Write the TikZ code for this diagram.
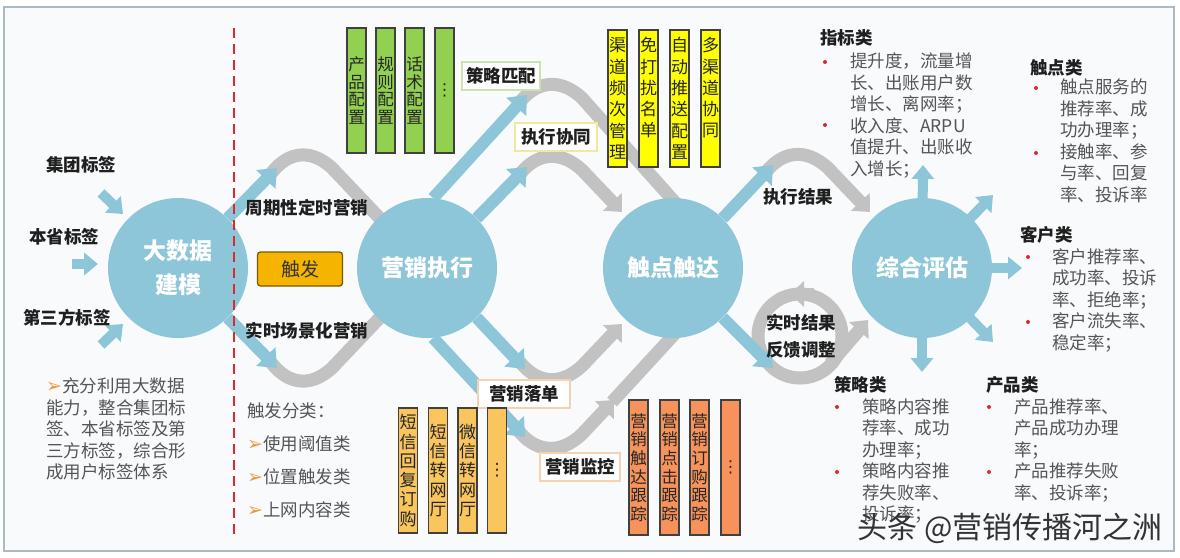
\documentclass[tikz,border=0pt]{standalone}
\usepackage{fontspec}
\setmainfont{Noto Sans CJK SC}
\newfontfamily\symf{DejaVu Sans}
\usetikzlibrary{arrows.meta}
\pgfdeclarelayer{bg}
\pgfdeclarelayer{back}
\pgfsetlayers{bg,back,main}
\definecolor{cblue}{HTML}{8DC5D9}
\definecolor{cgray}{HTML}{C2C2C2}
\definecolor{cframe}{HTML}{A9B9C8}
\definecolor{cbg}{HTML}{F8FAFC}
\definecolor{cred}{HTML}{E02828}
\definecolor{ctxt}{HTML}{555555}
\definecolor{cgreen}{HTML}{92D050}
\definecolor{cyellow}{HTML}{FFFF00}
\definecolor{clorange}{HTML}{F9C55C}
\definecolor{corange}{HTML}{F7935A}
\definecolor{ctrig}{HTML}{F4B400}
\definecolor{ctrigb}{HTML}{7A5A00}
\definecolor{cbullet}{HTML}{EE9A3A}
\definecolor{cglight}{HTML}{C9E3B5}
\definecolor{cylight}{HTML}{EFEA9C}
\definecolor{colight}{HTML}{F5D3B0}
\newcommand{\arrb}{{\symf\fontsize{19}{19}\selectfont\color{cbullet}➢}}
\begin{document}
\begin{tikzpicture}[x=1pt,y=-1pt,
  bluearr/.style={draw=cblue, line width=12pt, -{Triangle[width=26pt,length=16pt]}},
  smallarr/.style={draw=cblue, line width=10pt, -{Triangle[width=22pt,length=14pt]}},
  band/.style={draw=cgray, line width=13pt},
  grayarr/.style={band, -{Triangle[width=25pt,length=14pt]}},
  bigc/.style={circle, fill=cblue, minimum size=140pt, inner sep=0pt, text=white, font=\fontsize{23}{34}\selectfont\bfseries, align=center},
  lbl/.style={font=\fontsize{17.5}{21}\selectfont\bfseries, text=black!88, inner sep=0pt},
  tagbox/.style={lbl, fill=white, draw=#1, line width=1.2pt, inner xsep=4pt, minimum height=28pt},
  vbox/.style={draw=black!75, line width=1.2pt, fill=#1, minimum width=19pt, inner sep=0pt, align=center, text=black!85},
  body/.style={font=\fontsize{17.5}{21.5}\selectfont, text=ctxt, align=left, inner sep=0pt, anchor=north west},
  head/.style={font=\fontsize{17.5}{21}\selectfont\bfseries, text=black!88, inner sep=0pt, anchor=west},
  rdot/.style={circle, fill=cred, inner sep=0pt, minimum size=4pt},
  wm/.style={font=\fontsize{30}{30}\selectfont, inner sep=0pt, text=black!80},
]
% ---------- circles ----------
\node[bigc] (c1) at (178,268) {大数据\\建模};
\node[bigc] (c2) at (427,268) {营销执行};
\node[bigc] (c3) at (673,268) {触点触达};
\node[bigc] (c4) at (922,268) {综合评估};

% ---------- free ends ----------
\coordinate (t1) at (277,168);
\coordinate (t2) at (277,368);
\coordinate (t3) at (527,95);
\coordinate (t4) at (527,167);
\coordinate (t5) at (525,369);
\coordinate (t6) at (525,437);
\coordinate (t7) at (773,165);
\coordinate (t8) at (773,368);
\coordinate (r1) at (923,165);
\coordinate (r2) at (993,195);
\coordinate (r3) at (1022,268);
\coordinate (r4) at (993,342);
\coordinate (r5) at (922,372);
\coordinate (i1) at (101,193);
\coordinate (i1t) at (123,214);
\coordinate (i2) at (72,264);
\coordinate (i2t) at (98,264);
\coordinate (i3) at (101,345);
\coordinate (i3t) at (123,324);
\coordinate (ring) at (800,336);

\begin{pgfonlayer}{bg}
\fill[white] (0,0) rectangle (1180,557);
\useasboundingbox (0,0) rectangle (1180,557);
\draw[draw=cframe, line width=2pt, fill=cbg] (4,7) rectangle (1174,551);
\end{pgfonlayer}

\begin{pgfonlayer}{back}
% gray bands
\draw[band] (270,175) .. controls (285,154) and (308,146) .. (332,168) -- (c2.center);
\draw[band] (270,361) .. controls (285,382) and (308,390) .. (332,368) -- (c2.center);
\draw[band] (520,102) .. controls (535,83) and (558,76) .. (582,98) -- (680,208);
\draw[grayarr] (520,174) .. controls (535,155) and (558,148) .. (582,170) -- (622,212);
\draw[grayarr] (520,362) .. controls (535,381) and (558,388) .. (582,366) -- (622,324);
\draw[grayarr] (518,430) .. controls (533,450) and (558,457) .. (582,434) -- (614,400);
\draw[band] (612,402) -- (680,328);
\draw[grayarr] (766,172) .. controls (781,153) and (804,146) .. (828,168) -- (870,212);
\draw[band] (ring) circle[radius=42];
\draw[grayarr] (814,294) -- (790,294);
\draw[grayarr] (830,364) -- (868,320);
% blue arrows
\draw[bluearr] (c1.45) -- (t1);
\draw[bluearr] (c1.-45) -- (t2);
\draw[bluearr] (c2.85) -- (t3);
\draw[bluearr] (c2.45) -- (t4);
\draw[bluearr] (c2.-45) -- (t5);
\draw[bluearr] (c2.-85) -- (t6);
\draw[bluearr] (c3.45) -- (t7);
\draw[bluearr] (c3.-45) -- (t8);
\draw[smallarr] (c4.center) -- (r1);
\draw[smallarr] (c4.center) -- (r2);
\draw[smallarr] (c4.center) -- (r3);
\draw[smallarr] (c4.center) -- (r4);
\draw[smallarr] (c4.center) -- (r5);
\draw[smallarr] (i1) -- (i1t);
\draw[smallarr] (i2) -- (i2t);
\draw[smallarr] (i3) -- (i3t);
\end{pgfonlayer}

% ---------- red dashed divider ----------
\draw[cred, line width=2.5pt, dash pattern=on 10pt off 6pt] (234,28) -- (234,535);

% ---------- left labels ----------
\node[lbl] (l1) at (81,165) {集团标签};
\node[lbl] (l2) at (64,237) {本省标签};
\node[lbl] (l3) at (67,318) {第三方标签};
\node[body] (p1) at (46,378) {\arrb 充分利用大数据\\能力，整合集团标\\签、本省标签及第\\三方标签，综合形\\成用户标签体系};

% ---------- trigger area ----------
\node[lbl] (m1) at (307,208) {周期性定时营销};
\node[lbl] (m2) at (307,331) {实时场景化营销};
\node[draw=ctrigb, fill=ctrig, rounded corners=3pt, line width=1.3pt, minimum width=85pt, minimum height=34pt, inner sep=0pt, font=\fontsize{19}{19}\selectfont, text=black!80] (trig) at (300,269) {触发};
\node[body, font=\fontsize{17.5}{32.7}\selectfont] (p2) at (247,403) {触发分类：\\\arrb 使用阈值类\\\arrb 位置触发类\\\arrb 上网内容类};

% ---------- tag boxes ----------
\node[tagbox=cglight, minimum width=78pt] (s1) at (501,76) {策略匹配};
\node[tagbox=cylight, minimum width=82pt] (s2) at (556,137) {执行协同};
\node[tagbox=colight, minimum width=92pt] (s3) at (524,394) {营销落单};
\node[tagbox=colight, minimum width=80pt] (s4) at (580,467) {营销监控};
\node[lbl] (e1) at (798,197) {执行结果};
\node[lbl, align=center, font=\fontsize{17.5}{27}\selectfont\bfseries] (e2) at (801,336) {实时结果\\反馈调整};

% ---------- vertical boxes ----------
\begin{scope}[every node/.append style={font=\fontsize{16.5}{17.5}\selectfont}]
\node[vbox=cgreen, minimum height=125pt] (g1) at (356.5,90.5) {产\\品\\配\\置};
\node[vbox=cgreen, minimum height=125pt] (g2) at (385.5,90.5) {规\\则\\配\\置};
\node[vbox=cgreen, minimum height=125pt] (g3) at (414.5,90.5) {话\\术\\配\\置};
\node[vbox=cgreen, minimum height=125pt] (g4) at (444.5,90.5) {\symf ⋮};
\end{scope}
\begin{scope}[every node/.append style={font=\fontsize{17}{21.3}\selectfont}]
\node[vbox=cyellow, minimum height=137pt] (y1) at (617.5,98.5) {渠\\道\\频\\次\\管\\理};
\node[vbox=cyellow, minimum height=137pt] (y2) at (648.5,98.5) {免\\打\\扰\\名\\单\\\phantom{单}};
\node[vbox=cyellow, minimum height=137pt] (y3) at (679.5,98.5) {自\\动\\推\\送\\配\\置};
\node[vbox=cyellow, minimum height=137pt] (y4) at (710.5,98.5) {多\\渠\\道\\协\\同\\\phantom{同}};
\end{scope}
\begin{scope}[every node/.append style={font=\fontsize{17}{19.3}\selectfont}]
\node[vbox=clorange, minimum height=125pt] (b1) at (408,470.5) {短\\信\\回\\复\\订\\购};
\node[vbox=clorange, minimum height=125pt] (b2) at (438,470.5) {短\\信\\转\\网\\厅};
\node[vbox=clorange, minimum height=125pt] (b3) at (467.5,470.5) {微\\信\\转\\网\\厅};
\node[vbox=clorange, minimum height=125pt] (b4) at (497,470.5) {\symf ⋮};
\end{scope}
\begin{scope}[every node/.append style={font=\fontsize{16.5}{18.7}\selectfont}]
\node[vbox=corange, minimum height=135pt] (o1) at (638.5,467.5) {营\\销\\触\\达\\跟\\踪};
\node[vbox=corange, minimum height=135pt] (o2) at (669.5,467.5) {营\\销\\点\\击\\跟\\踪};
\node[vbox=corange, minimum height=135pt] (o3) at (699.5,467.5) {营\\销\\订\\购\\跟\\踪};
\node[vbox=corange, minimum height=135pt] (o4) at (730.5,467.5) {\symf ⋮};
\end{scope}

% ---------- right side texts ----------
\node[head] (h1) at (820,38) {指标类};
\node[rdot] (d1a) at (825,62) {};
\node[rdot] (d1b) at (825,125) {};
\node[body] (x1) at (850,53) {提升度，流量增\\长、出账用户数\\增长、离网率；\\收入度、ARPU\\值提升、出账收\\入增长；};

\node[head] (h2) at (1030,68) {触点类};
\node[rdot] (d2a) at (1036,88) {};
\node[rdot] (d2b) at (1036,153) {};
\node[body] (x2) at (1060,79) {触点服务的\\推荐率、成\\功办理率；\\接触率、参\\与率、回复\\率、投诉率};

\node[head] (h3) at (1020,235) {客户类};
\node[rdot] (d3a) at (1028,257) {};
\node[rdot] (d3b) at (1028,322) {};
\node[body] (x3) at (1052,248) {客户推荐率、\\成功率、投诉\\率、拒绝率；\\客户流失率、\\稳定率；};

\node[head] (h4) at (834,385) {策略类};
\node[rdot] (d4a) at (837,407) {};
\node[rdot] (d4b) at (837,472) {};
\node[body] (x4) at (862,398) {策略内容推\\荐率、成功\\办理率；\\策略内容推\\荐失败率、\\投诉率；};

\node[head] (h5) at (986,385) {产品类};
\node[rdot] (d5a) at (989,407) {};
\node[rdot] (d5b) at (989,472) {};
\node[body] (x5) at (1014,398) {产品推荐率、\\产品成功办理\\率；\\产品推荐失败\\率、投诉率；};

% ---------- watermark ----------
\node[wm] (wmk) at (1010,528) {头条 @营销传播河之洲};
\end{tikzpicture}
\end{document}
